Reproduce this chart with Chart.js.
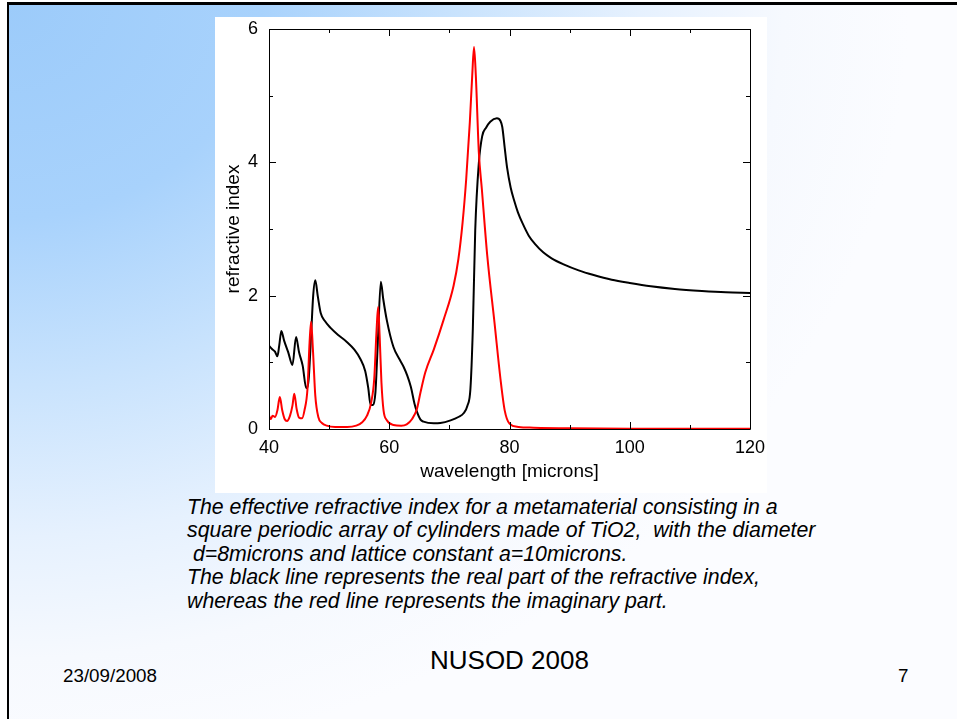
<!DOCTYPE html>
<html>
<head>
<meta charset="utf-8">
<script src="https://cdn.jsdelivr.net/npm/chart.js@4/dist/chart.umd.min.js"></script>
<style>
  html, body { margin: 0; padding: 0; }
  body {
    width: 957px; height: 719px; overflow: hidden; position: relative;
    background: #ffffff;
    font-family: "Liberation Sans", Arial, sans-serif;
  }
  #slide {
    position: absolute; left: 7px; top: 2px; width: 1000px; height: 800px;
    border-left: 2px solid #000; border-top: 3px solid #000;
    background: radial-gradient(ellipse 900px 760px at 0 0,
      #9ccbfa 0%, #a8d2fc 28%, #c9e3fd 50%, #e6f1fe 70%, #f6f9fe 86%, #fbfcff 100%);
  }
  #plotBox {
    position: absolute; left: 215px; top: 17px; width: 552px; height: 476px;
    background: #ffffff;
  }
  #plotBox canvas { display: block; }
  .caption {
    position: absolute; left: 187px; top: 496px;
    font-style: italic; font-size: 21.3px; line-height: 23.4px; color: #000;
    white-space: pre;
  }
  .footer { position: absolute; color: #000; white-space: pre; line-height: 1.15; }
</style>
</head>
<body>
<div id="slide"></div>
<div id="plotBox"><canvas id="chart" width="552" height="476"></canvas></div>
<div class="caption">The effective refractive index for a metamaterial consisting in a
square periodic array of cylinders made of TiO2,  with the diameter
 d=8microns and lattice constant a=10microns.
The black line represents the real part of the refractive index,
whereas the red line represents the imaginary part.</div>
<div class="footer" style="left:63px; top:665px; font-size:18.8px;">23/09/2008</div>
<div class="footer" style="left:430px; top:646px; font-size:26px;">NUSOD 2008</div>
<div class="footer" style="left:898px; top:665px; font-size:18.8px;">7</div>
<script>
// Real part of the effective refractive index (black curve)
const realWavelength = [40.0, 40.5, 41.0, 41.4, 41.7, 42.05, 42.5, 43.2, 43.9, 44.5, 45.0, 45.6, 46.2, 46.6,
  47.0, 47.35, 47.7, 48.1, 48.6, 49.3, 50.2, 51.5, 52.9, 54.2, 55.2, 56.0, 56.5, 56.9, 57.3, 57.7,
  58.1, 58.6, 59.0, 59.6, 60.7, 61.8, 62.4, 63.0, 63.6, 64.2, 64.6, 65.2, 65.7, 67.4, 68.5, 70.2,
  71.5, 72.4, 73.0, 73.5, 73.9, 74.3, 74.9, 75.45, 76.1, 76.8, 77.9, 78.5, 78.8, 79.2, 79.6, 80.2,
  80.8, 81.4, 82.2, 83.2, 84.3, 85.6, 87.0, 89.0, 91.5, 94.0, 97.0, 100.0, 103.5, 107.5, 112.0,
  116.0, 120.0];
const realIndex = [1.25, 1.20, 1.16, 1.09, 1.25, 1.47, 1.33, 1.15, 0.96, 1.38, 1.15, 0.95, 0.61, 0.75,
  1.40, 2.00, 2.23, 2.00, 1.74, 1.62, 1.52, 1.41, 1.31, 1.19, 1.05, 0.87, 0.62, 0.36, 0.36, 0.55,
  1.30, 2.21, 1.95, 1.63, 1.23, 1.03, 0.93, 0.80, 0.63, 0.38, 0.26, 0.14, 0.11, 0.085, 0.09, 0.13,
  0.18, 0.24, 0.35, 0.60, 1.50, 2.98, 3.99, 4.39, 4.52, 4.61, 4.66, 4.62, 4.53, 4.22, 3.92, 3.62,
  3.42, 3.25, 3.08, 2.90, 2.77, 2.65, 2.56, 2.47, 2.38, 2.31, 2.24, 2.19, 2.14, 2.10, 2.07,
  2.05, 2.04];

// Imaginary part of the effective refractive index (red curve)
const imagWavelength = [40.0, 40.3, 40.6, 41.0, 41.4, 41.8, 42.2, 42.6, 43.0, 43.5, 43.9, 44.2, 44.6, 45.0,
  45.5, 45.9, 46.4, 46.75, 47.0, 47.3, 47.7, 48.2, 48.8, 49.6, 51.0, 53.0, 54.5, 55.5, 56.3, 57.0,
  57.5, 57.9, 58.15, 58.4, 58.7, 59.05, 59.6, 60.7, 62.0, 62.9, 63.8, 64.6, 65.2, 66.0, 67.4, 69.05,
  70.7, 71.5, 72.2, 72.8, 73.4, 73.8, 74.1, 74.4, 74.9, 75.4, 76.3, 77.5, 78.5, 79.2, 80.0, 81.5,
  84.0, 90.0, 100.0, 120.0];
const imagIndex = [0.20, 0.15, 0.20, 0.18, 0.28, 0.48, 0.28, 0.15, 0.12, 0.20, 0.35, 0.53, 0.30, 0.17,
  0.16, 0.28, 0.60, 1.30, 1.61, 1.20, 0.50, 0.18, 0.09, 0.05, 0.03, 0.03, 0.05, 0.10, 0.20, 0.40,
  0.75, 1.50, 1.83, 1.40, 0.70, 0.28, 0.13, 0.06, 0.05, 0.07, 0.15, 0.30, 0.55, 0.85, 1.19, 1.64,
  2.15, 2.55, 3.10, 3.75, 4.60, 5.30, 5.73, 5.30, 4.15, 3.60, 2.60, 1.60, 0.75, 0.28, 0.08, 0.03,
  0.02, 0.01, 0.004, 0.002];

// Axis ranges and labelled tick values
const xRange = [40, 120];
const yRange = [0, 6];
const xLabelValues = [40, 60, 80, 100, 120];
const yLabelValues = [0, 2, 4, 6];

const toPoints = (xs, ys) => xs.map((x, i) => ({ x: x, y: ys[i] }));

// Plot frame with gnuplot-style inward ticks on all four sides
const frameTicks = {
  id: 'frameTicks',
  afterDatasetsDraw(chart) {
    const { ctx, chartArea: a, scales } = chart;
    ctx.save();
    ctx.strokeStyle = '#000';
    ctx.lineWidth = 1;
    ctx.beginPath();
    ctx.rect(Math.round(a.left) + 0.5, Math.round(a.top) + 0.5,
             Math.round(a.right - a.left), Math.round(a.bottom - a.top));
    ctx.stroke();
    ctx.beginPath();
    scales.x.ticks.forEach(t => {
      const px = Math.round(scales.x.getPixelForValue(t.value)) + 0.5;
      const len = xLabelValues.includes(t.value) ? 7 : 4;
      ctx.moveTo(px, a.bottom); ctx.lineTo(px, a.bottom - len);
      ctx.moveTo(px, a.top); ctx.lineTo(px, a.top + len);
    });
    scales.y.ticks.forEach(t => {
      const py = Math.round(scales.y.getPixelForValue(t.value)) + 0.5;
      const len = yLabelValues.includes(t.value) ? 7 : 4;
      ctx.moveTo(a.left, py); ctx.lineTo(a.left + len, py);
      ctx.moveTo(a.right, py); ctx.lineTo(a.right - len, py);
    });
    ctx.stroke();
    ctx.restore();
  }
};

const tickFont = { family: '"Liberation Sans", Arial, sans-serif', size: 18 };
const titleFont = { family: '"Liberation Sans", Arial, sans-serif', size: 19 };

new Chart(document.getElementById('chart'), {
  type: 'line',
  data: {
    datasets: [
      {
        label: 'Re(n)',
        data: toPoints(realWavelength, realIndex),
        borderColor: '#000000',
        borderWidth: 2,
        pointRadius: 0,
        cubicInterpolationMode: 'monotone',
        order: 1
      },
      {
        label: 'Im(n)',
        data: toPoints(imagWavelength, imagIndex),
        borderColor: '#ff0000',
        borderWidth: 2,
        pointRadius: 0,
        cubicInterpolationMode: 'monotone',
        order: 0
      }
    ]
  },
  options: {
    responsive: false,
    animation: false,
    devicePixelRatio: 1,
    layout: { padding: { top: 12, right: 17, left: 0, bottom: 0 } },
    plugins: { legend: { display: false }, tooltip: { enabled: false } },
    scales: {
      x: {
        type: 'linear',
        min: xRange[0], max: xRange[1],
        grid: { display: false, drawTicks: false },
        border: { display: false },
        ticks: {
          stepSize: 10,
          color: '#000',
          font: tickFont,
          padding: 8,
          maxRotation: 0,
          autoSkip: false,
          callback: v => (xLabelValues.includes(v) ? String(v) : '')
        },
        title: {
          display: true,
          text: 'wavelength [microns]',
          color: '#000',
          font: titleFont,
          padding: { top: 0, bottom: 10 }
        },
        afterFit: s => {
          s.height = 64;
          s.paddingLeft = 0;
          s.paddingRight = 0;
        }
      },
      y: {
        min: yRange[0], max: yRange[1],
        grid: { display: false, drawTicks: false },
        border: { display: false },
        ticks: {
          stepSize: 1,
          color: '#000',
          font: tickFont,
          padding: 11,
          autoSkip: false,
          callback: v => (yLabelValues.includes(v) ? String(v) : '')
        },
        title: {
          display: true,
          text: 'refractive index',
          color: '#000',
          font: titleFont,
          padding: { top: 7, bottom: 0 }
        },
        afterFit: s => {
          s.width = 54;
          s.paddingTop = 0;
          s.paddingBottom = 0;
        }
      }
    }
  },
  plugins: [frameTicks]
});
</script>
</body>
</html>
